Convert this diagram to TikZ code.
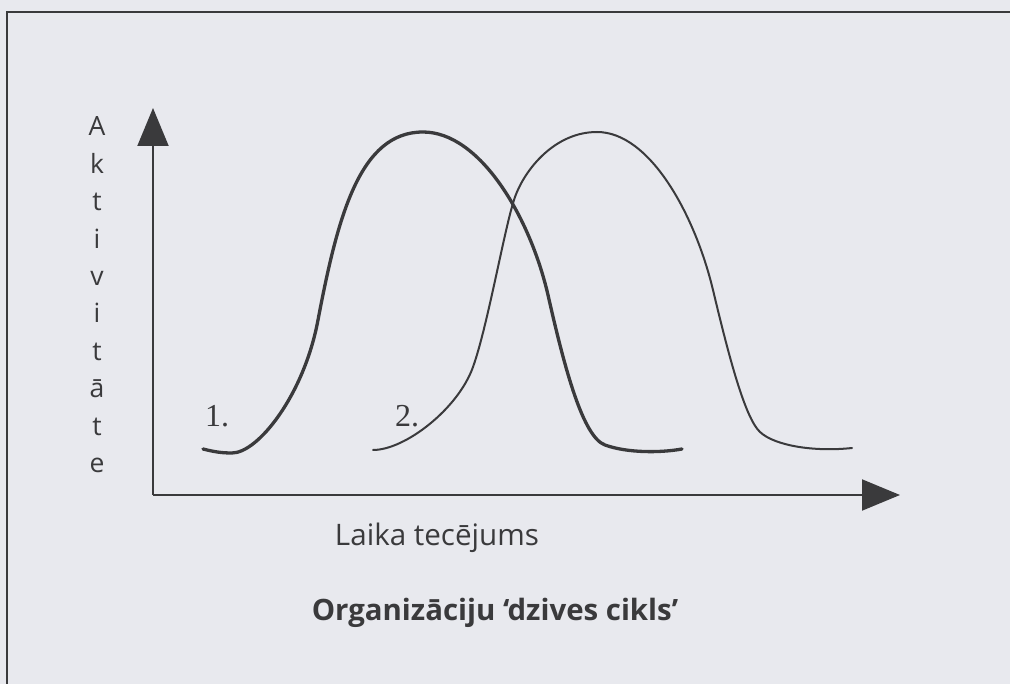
\documentclass[tikz,border=0pt]{standalone}
\usepackage{fontspec}
\setmainfont{Open Sans}
\newfontfamily\seriffont{Liberation Serif}
\usetikzlibrary{arrows.meta}
\definecolor{paper}{HTML}{E8E9EE}
\definecolor{ink}{HTML}{3A3A3C}
\tikzset{
  axis/.style={draw=ink, line width=2pt, -{Triangle[length=38pt,width=31pt]}},
  frameline/.style={draw=ink, line width=2.2pt},
  curveA/.style={draw=ink, line width=3.3pt, line cap=round},
  curveB/.style={draw=ink, line width=2pt, line cap=round},
  ylet/.style={anchor=base, inner sep=0pt, text=ink, font=\fontsize{26.5}{26.5}\selectfont},
  numlab/.style={anchor=base west, inner sep=0pt, text=ink, font=\seriffont\fontsize{32}{32}\selectfont},
  caption/.style={anchor=base, inner sep=0pt, text=ink}
}
\begin{document}
\begin{tikzpicture}[x=1pt,y=-1pt]
\fill[paper] (0,0) rectangle (1010,684);
\useasboundingbox (0,0) rectangle (1010,684);
% frame
\coordinate (fTL) at (7,12);
\coordinate (fTR) at (1012,12);
\coordinate (fBL) at (7,686);
\draw[frameline] (fTR) -- (fTL) -- (fBL);
% axes
\coordinate (O) at (153,495);
\coordinate (Ytip) at (153,108);
\coordinate (Xtip) at (900,495);
\draw[axis] (O) -- (Ytip);
\draw[axis] (O) -- (Xtip);
% y label
\foreach \l [count=\i from 0] in {A,k,t,i,v,i,t,ā,t,e}{
  \node[ylet] (y\i) at (97,{136+37.4*\i}) {\l};
}
% curve 1
\draw[curveA] (203,449) .. controls (215,452) and (222,453) .. (232,453)
  .. controls (258,453) and (304,395) .. (318,320)
  .. controls (338,215) and (360,132) .. (423,132)
  .. controls (480,132) and (530,217) .. (548,295)
  .. controls (565,370) and (583,437) .. (605,445)
  .. controls (627,453) and (660,453) .. (682,449);
% curve 2
\draw[curveB] (373,450) .. controls (405,450) and (458,409) .. (473,367)
  .. controls (488,325) and (505,225) .. (515,197)
  .. controls (525,169) and (555,132) .. (597,132)
  .. controls (650,132) and (695,215) .. (713,290)
  .. controls (729,357) and (745,418) .. (760,432)
  .. controls (775,446) and (815,452) .. (852,448);
% labels
\node[numlab] (n1) at (205,427) {1.};
\node[numlab] (n2) at (395,427) {2.};
\node[caption, font=\fontsize{29.6}{29.6}\selectfont] (xlab) at (437,545) {Laika tecējums};
\node[caption, font=\bfseries\fontsize{29.4}{29.4}\selectfont] (title) at (495,620) {Organizāciju ‘dzives cikls’};
\end{tikzpicture}
\end{document}
